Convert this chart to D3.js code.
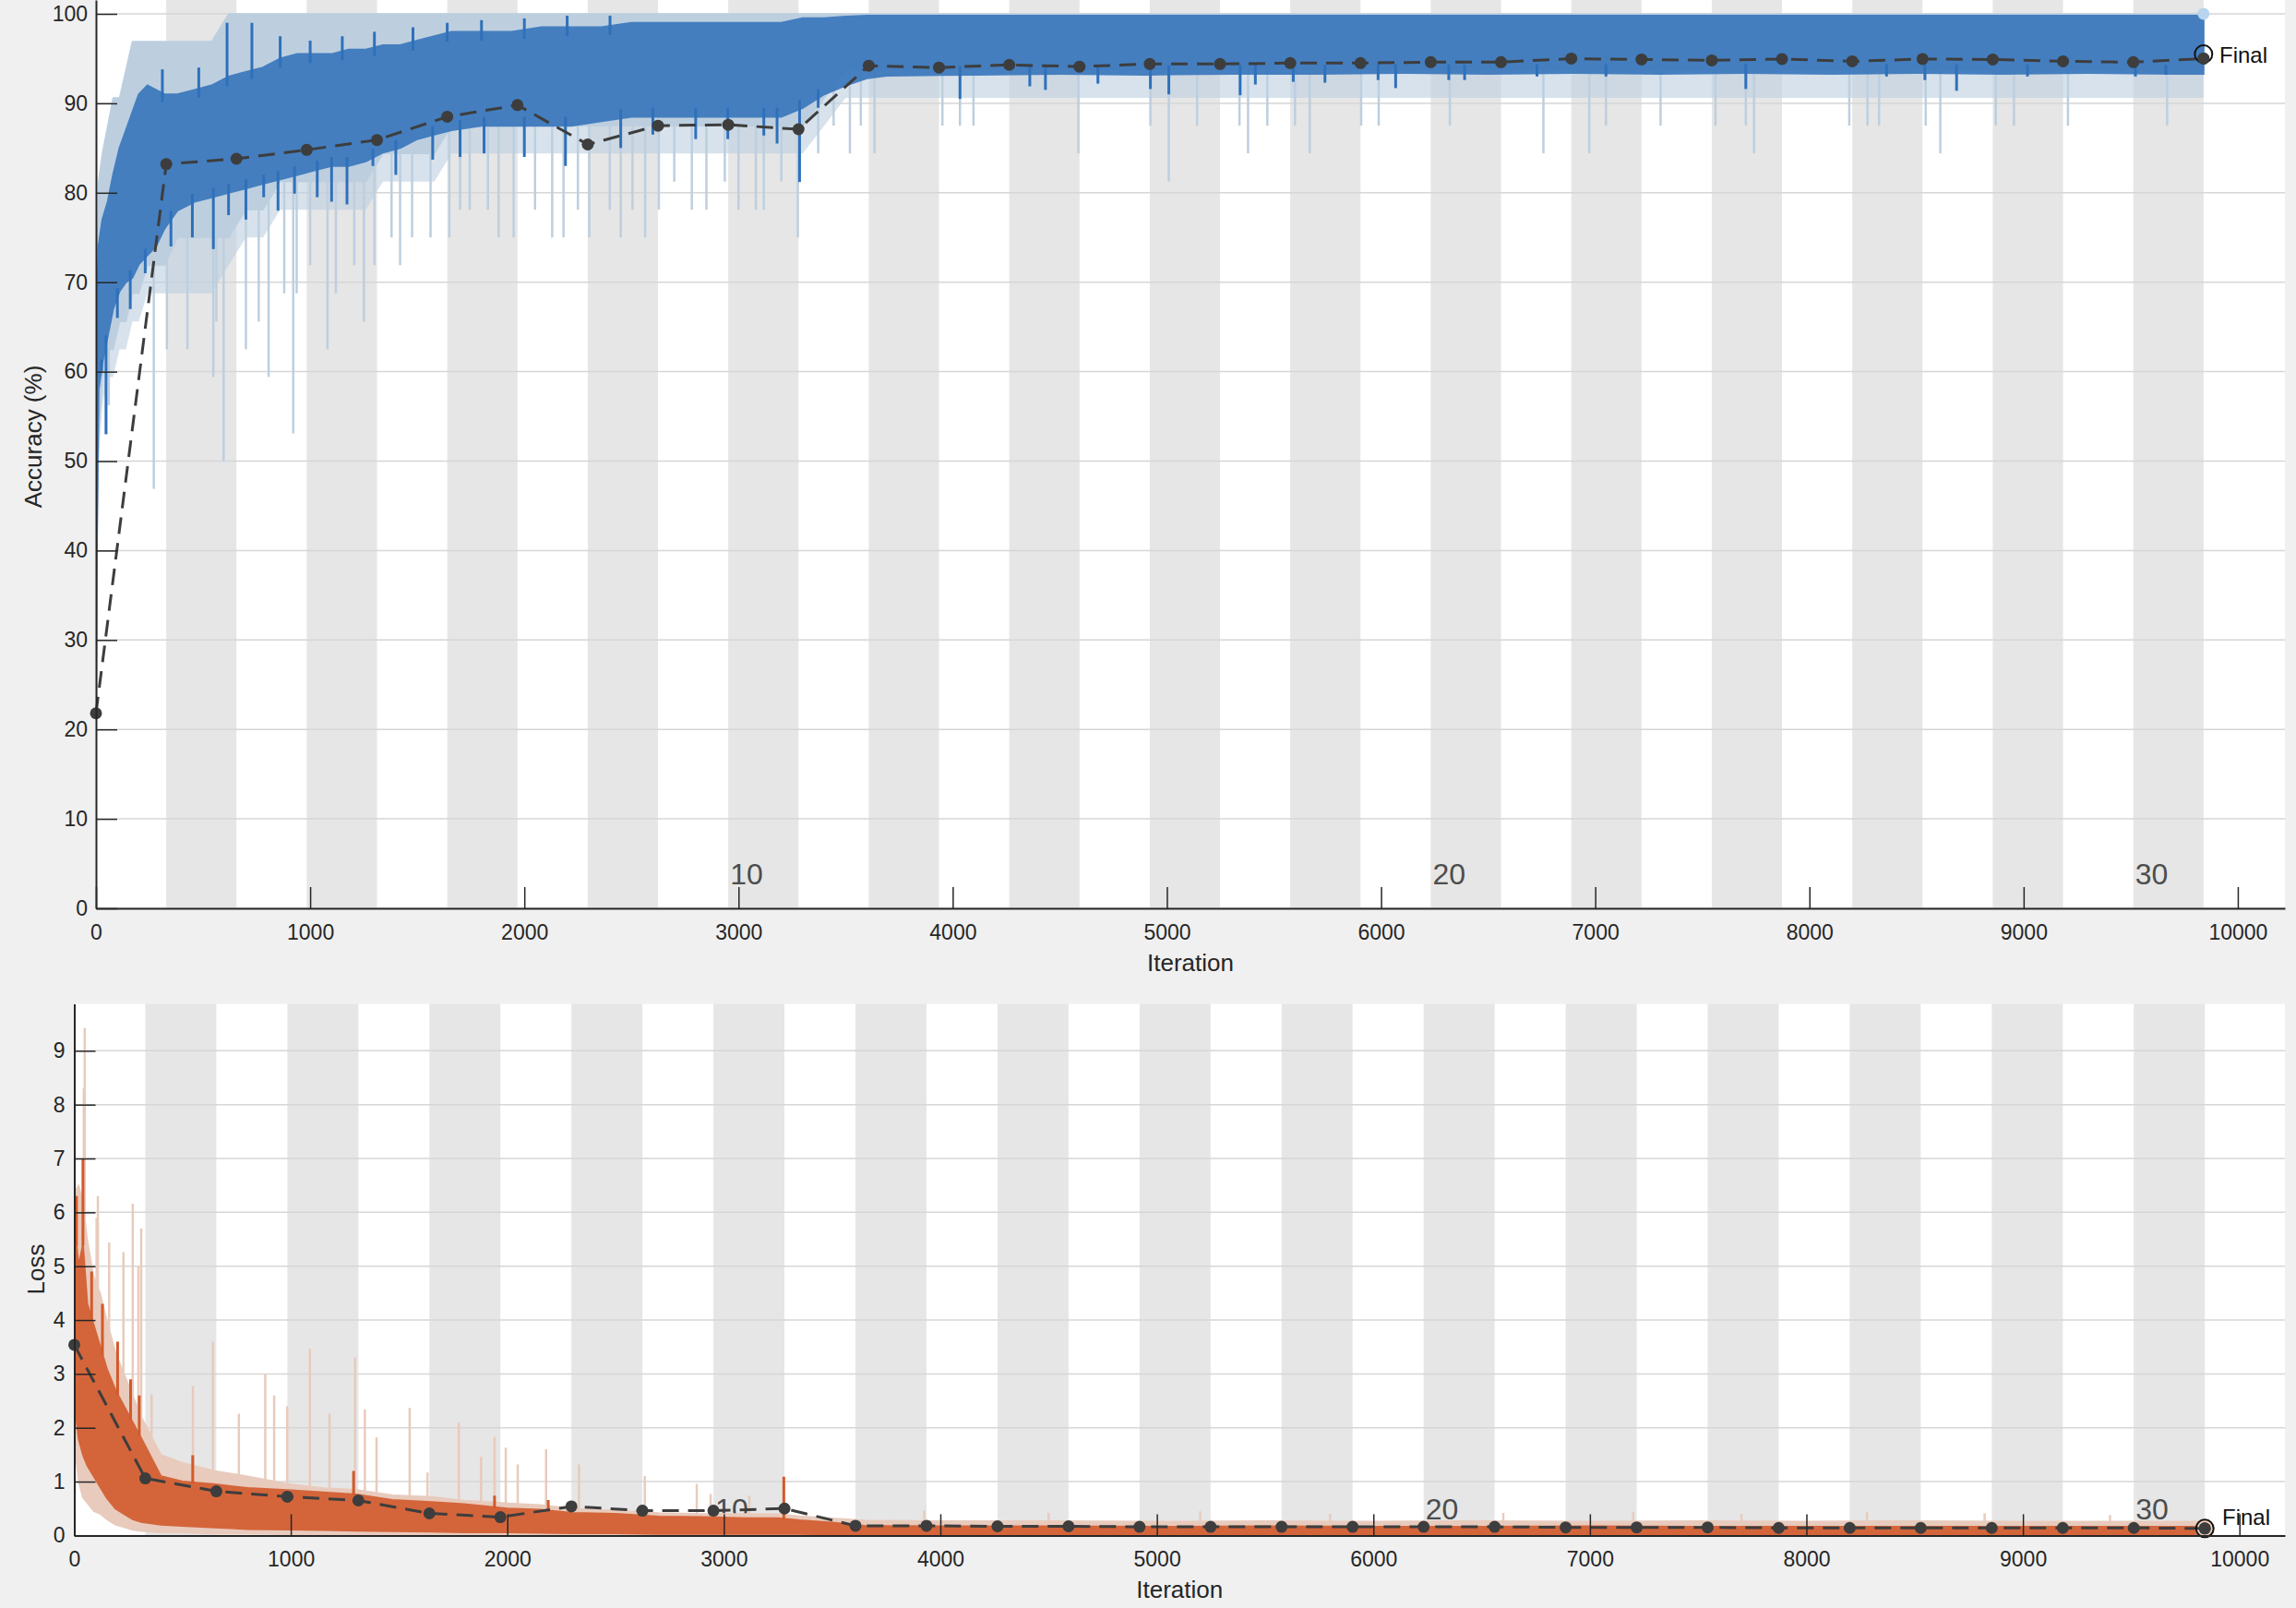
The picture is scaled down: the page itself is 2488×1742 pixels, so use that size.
<!DOCTYPE html>
<html><head><meta charset="utf-8">
<script src="https://cdn.jsdelivr.net/npm/d3@7/dist/d3.min.js"></script>
<style>
html,body{margin:0;padding:0;background:#f0f0f0;}
svg{display:block;font-family:"Liberation Sans",Arial,Helvetica,sans-serif;}
</style></head><body>
<svg id="chart" width="2488" height="1742"></svg>
<script>
// ---------- structure ----------
const itersPerEpoch = 328;
const numEpochs = 30;
const epochLabels = [10, 20, 30];
const iterTicks = [0,1000,2000,3000,4000,5000,6000,7000,8000,9000,10000];
const accTicks = [0,10,20,30,40,50,60,70,80,90,100];
const lossTicks = [0,1,2,3,4,5,6,7,8,9];

// ---------- accuracy (training, read as per-bin envelopes) ----------
const accIter = [0,4,12,30,55,80,110,140,170,200, 240,280,320,380,460,540,620,700,780,860,
  940,1020,1100,1180,1260,1340,1420,1500,1580,1660, 1800,1940,2080,2220,2360,2500,2640,2780,2920,3060,
  3200,3300,3400,3500,3600,3700,4100,4500,4900,5300, 5700,6100,6500,6900,7300,7700,8100,8500,8900,9300,
  9700,9840];
const accSmoothLo = [19.8,40,58,61,64,67,69,70,70.5,72, 73,74,76,78,79,79.5,80,80.5,81,81.5,
  82,82.5,83,83,83.5,84.5,85,86,86.5,87, 87.5,87.5,87.5,87.5,88,88.5,88.5,88.5,88.5,88.5,
  88.5,89.5,91,92,92.8,93.1,93.2,93.3,93.2,93.3, 93.3,93.4,93.3,93.4,93.3,93.4,93.3,93.4,93.3,93.4,
  93.3,93.3];
const accSmoothHi = [21.9,66,74,77,79,82,85,87,89,91, 92,91.5,91,91,91.5,92,93,93.5,94,95,
  95.5,95.5,95.5,96,96,96.5,96.5,97,97.5,98, 98,98,98.5,98.5,98.5,99,99,99,99,99,
  99,99.5,99.5,99.7,99.8,99.8,99.8,99.8,99.8,99.8, 99.8,99.8,99.8,99.8,99.8,99.8,99.8,99.8,99.8,99.8,
  99.8,99.8];
const accRawLo = [18.75,40.6,53.1,59.4,62.5,62.5,65.6,65.6,68.75,68.75, 71.9,71.9,71.9,75,75,75,75,78.1,78.1,81.25,
  81.25,81.25,81.25,81.25,81.25,84.4,84.4,84.4,84.4,87.5, 87.5,87.5,87.5,87.5,87.5,87.5,87.5,87.5,87.5,87.5,
  87.5,87.5,90.6,93.75,93.75,93.75,93.75,93.75,93.75,93.75, 93.75,93.75,93.75,93.75,93.75,93.75,93.75,93.75,93.75,93.75,
  93.75,93.75];
const accRawSparse = [18.75,37.5,50,56.25,59.4,59.4,62.5,62.5,65.6,65.6, 68.75,68.75,68.75,68.75,68.75,68.75,71.9,75,75,78.1,
  78.1,78.1,78.1,78.1,78.1,81.25,81.25,81.25,81.25,84.4, 84.4,84.4,84.4,84.4,84.4,84.4,84.4,84.4,84.4,84.4,
  84.4,84.4,87.5,90.6,90.6,90.6,90.6,90.6,90.6,90.6, 90.6,90.6,90.6,90.6,90.6,90.6,90.6,90.6,90.6,90.6,
  90.6,90.6];
const accRawHi = [21.9,68.75,81.25,84.4,87.5,90.6,90.6,93.75,96.9,96.9, 96.9,96.9,96.9,96.9,96.9,96.9,100,100,100,100,
  100,100,100,100,100,100,100,100,100,100, 100,100,100,100,100,100,100,100,100,100,
  100,100,100,100,100,100,100,100,100,100, 100,100,100,100,100,100,100,100,100,100,
  100,100];
const accSpikeIter = [47,60,270,331,427,548,562,596,700,760, 806,879,921,937,1000,1081,1120,1206,1251,1300,
  1380,1420,1476,1562,1650,1700,1745,1830,1880,1950, 2050,2130,2183,2250,2303,2399,2450,2505,2564,2628,
  2700,2782,2850,2936,3000,3081,3118,3200,3277,3372, 3444,3520,3571,3635,3952,4034,4097,4587,4923,5009,
  5141,5339,5379,5469,5598,5667,5907,5989,6321,6758, 6972,7050,7305,7561,7703,7741,8186,8271,8325,8543,
  8611,8870,8955,9207,9670];
const accSpikeVal = [53.1,56.25,46.9,62.5,62.5,59.4,65.6,50,62.5,65.6, 59.4,68.75,53.1,68.75,71.9,62.5,68.75,71.9,65.6,71.9,
  75,71.9,75,75,75,78.1,78.1,78.1,75,75, 78.1,75,75,78.1,75,78.1,75,78.1,75,78.1,
  81.25,78.1,78.1,81.25,78.1,78.1,78.1,81.25,75,84.4, 87.5,84.4,87.5,84.4,87.5,87.5,87.5,84.4,87.5,81.25,
  87.5,87.5,84.4,87.5,87.5,84.4,87.5,87.5,87.5,84.4, 84.4,87.5,87.5,87.5,87.5,84.4,87.5,87.5,87.5,87.5,
  84.4,87.5,87.5,87.5,87.5];
const accDipIter = [26,47,100,160,230,350,450,548,619,700, 783,850,927,1033,1100,1172,1293,1400,1572,1700,
  1812,2000,2192,2450,2600,2800,2950,3118,3180,3285, 3372,4034,4360,4433,4678,4923,5009,5342,5413,5590,
  5738,5986,6068,6316,6390,6728,7050,7703,8360,8539, 8687,9018,9522,9664];
const accDipVal = [60,53,66,67,71,74,75,73.7,77.5,77, 79.5,78,79.9,79.5,79,78.7,83,82,83.7,84,
  84.4,84,83,85,86.5,86,86,86.4,85.5,81.2, 89.5,90.5,91.9,91.5,92.2,91.6,91,90.9,92.1,92.4,
  92.3,92.6,91.7,92.6,92.6,93,93,91.6,93,92.6, 91.4,93,93,93.2];
const accPeakIter = [310,480,612,728,860,1000,1150,1300,1480,1640,1800,2000,2200,2400];
const accPeakVal = [93.8,94,99,99,97.5,97,97.5,98,98.5,99,99.3,99.5,99.8,99.8];
// validation accuracy, one per epoch boundary (epoch 0..30)
const valAcc = [21.8,83.2,83.8,84.8,85.9,88.5,89.8,85.4,87.5,87.6,87.1,94.2,94.0,94.3,94.1,94.4,94.4,94.5,94.5,94.6,
  94.6,95.0,94.9,94.8,94.95,94.7,94.95,94.9,94.7,94.6,95.0];
const finalAcc = 95.5;
const lastRawAcc = 100;

// ---------- loss ----------
const lossIter = [0,5,20,40,60,90,120,150,190,230, 270,310,400,500,650,800,1000,1150,1300,1470,
  1650,1800,2000,2150,2300,2500,2700,2900,3100,3250, 3350,3500,3650,4000,4500,5000,5500,6000,6500,7000,
  7500,8000,8500,9000,9500,9840];
const lossSmoothLo = [2.4,2.3,1.8,1.5,1.3,1.1,0.9,0.7,0.5,0.4, 0.3,0.25,0.2,0.18,0.15,0.12,0.11,0.1,0.09,0.08,
  0.07,0.06,0.06,0.05,0.04,0.04,0.03,0.03,0.03,0.03, 0.03,0.02,0.02,0.02,0.02,0.02,0.02,0.02,0.02,0.02,
  0.02,0.02,0.02,0.02,0.02,0.02];
const lossSmoothHi = [3.4,5.6,5.0,5.4,4.3,3.9,3.5,3.1,2.7,2.4, 2.1,1.8,1.1,1.0,0.95,0.88,0.84,0.8,0.76,0.66,
  0.62,0.58,0.5,0.48,0.42,0.4,0.35,0.34,0.32,0.32, 0.28,0.24,0.18,0.17,0.17,0.16,0.17,0.16,0.16,0.17,
  0.16,0.16,0.16,0.16,0.16,0.16];
const lossRawLo = [2.3,1.5,1.0,0.7,0.6,0.45,0.4,0.3,0.2,0.15, 0.1,0.08,0.05,0.05,0.03,0.03,0.02,0.02,0.02,0.02,
  0.01,0.01,0.01,0.01,0.01,0.01,0.01,0.01,0.01,0.01, 0.01,0.01,0.01,0.01,0.01,0.01,0.01,0.01,0.01,0.01,
  0.01,0.01,0.01,0.01,0.01,0.01];
const lossRawHi = [3.5,6.4,6.5,6.2,5.5,4.8,4.5,4.0,3.4,3.0, 2.6,2.2,1.5,1.35,1.2,1.1,0.95,0.88,0.85,0.75,
  0.72,0.65,0.6,0.57,0.5,0.46,0.42,0.4,0.4,0.4, 0.36,0.32,0.28,0.27,0.27,0.26,0.27,0.26,0.27,0.26,
  0.27,0.26,0.27,0.26,0.26,0.26];
const lossSpikeIter = [20,44,48,103,109,161,227,270,296,309, 357,548,640,760,882,923,983,1088,1179,1297,
  1342,1396,1549,1631,1776,1879,1941,1993,2048,2179, 2331,2635,2875,2939,3118,3925,4500,5200,5800,6600,
  7200,7700,8280,8823,9402];
const lossSpikeVal = [6.4,8.3,9.42,5.9,6.3,5.44,5.26,6.16,5.0,5.7, 2.62,2.78,3.6,2.26,3.0,2.6,2.4,3.47,2.26,3.3,
  2.34,1.82,2.37,1.17,2.1,1.46,1.83,1.63,1.32,1.6, 1.32,1.1,0.96,0.77,0.74,0.46,0.42,0.45,0.4,0.42,
  0.44,0.4,0.43,0.41,0.38];
const lossPeakIter = [10,40,80,130,200,260,300,547,1290,1941,2189,3277];
const lossPeakVal = [6.3,7.0,4.9,4.3,3.6,2.9,2.6,1.49,1.2,0.74,0.66,1.09];
const valLoss = [3.54,1.06,0.82,0.72,0.65,0.41,0.34,0.54,0.46,0.46,0.50,0.18,0.18,0.17,0.17,0.16,0.16,0.16,0.16,0.16,
  0.16,0.15,0.15,0.15,0.14,0.14,0.14,0.14,0.14,0.14,0.13];
const finalLoss = 0.13;
const lastRawLoss = 0.12;

// ---------- drawing ----------
const svg = d3.select('#chart');
const defs = svg.append('defs');
svg.append('rect').attr('width',2488).attr('height',1742).attr('fill','#f0f0f0');

function interp(xs, ys, t){
  const i = d3.bisectRight(xs, t);
  if (i <= 0) return ys[0];
  if (i >= xs.length) return ys[ys.length-1];
  const a = xs[i-1], b = xs[i];
  return ys[i-1] + (ys[i]-ys[i-1]) * (t-a) / (b-a);
}

function drawPanel(p){
  const g = svg.append('g');
  const x = d3.scaleLinear().domain([0, p.xMax]).range([p.left, p.right]);
  const y = d3.scaleLinear().domain([0, p.yMax]).range([p.bottom, p.top]);
  defs.append('clipPath').attr('id', 'clip'+p.id).append('rect')
    .attr('x', p.left).attr('y', p.top).attr('width', p.right-p.left).attr('height', p.bottom-p.top);

  g.append('rect').attr('x',p.left).attr('y',p.top).attr('width',p.right-p.left).attr('height',p.bottom-p.top).attr('fill','#ffffff');
  const bands = d3.range(2, numEpochs+1, 2);
  g.selectAll('rect.band').data(bands).join('rect').attr('class','band')
    .attr('x', e => x((e-1)*itersPerEpoch)).attr('width', e => x(e*itersPerEpoch)-x((e-1)*itersPerEpoch))
    .attr('y', p.top).attr('height', p.bottom-p.top).attr('fill', '#e6e6e6');
  g.selectAll('line.grid').data(p.yTicks).join('line').attr('class','grid')
    .attr('x1', p.left).attr('x2', p.right).attr('y1', d => y(d)).attr('y2', d => y(d))
    .attr('stroke', '#d6d6d6').attr('stroke-width', 1.5);
  g.selectAll('text.ep').data(epochLabels).join('text').attr('class','ep')
    .attr('x', e => x((e-1)*itersPerEpoch)+2).attr('y', p.epochY)
    .attr('font-size', 32).attr('fill', '#4d4d4d').text(e => e);

  const dg = g.append('g').attr('clip-path', `url(#clip${p.id})`);
  const rows = (xs, lo, hi) => xs.map((t,i) => ({t, lo: lo[i], hi: hi[i]}));
  const area = d3.area().x(d => x(d.t)).y0(d => y(d.lo)).y1(d => y(d.hi));
  const vlines = (cls, its, vals, to, color, w) =>
    dg.selectAll('line.'+cls).data(its).join('line').attr('class', cls)
      .attr('x1', t => x(t)).attr('x2', t => x(t))
      .attr('y1', (t,i) => y(vals[i])).attr('y2', t => y(to(t)))
      .attr('stroke', color).attr('stroke-width', w);

  // raw spikes (under raw band)
  vlines('rs', p.spikeIter, p.spikeVal, p.spikeTo, p.rawColor, 2.5);
  if (p.rawSparse) {
    dg.append('path').datum(rows(p.iter, p.rawSparse, p.rawLo)).attr('d', area)
      .attr('fill', p.rawColor).attr('opacity', 0.6);
  }
  dg.append('path').datum(rows(p.iter, p.rawLo, p.rawHi)).attr('d', area)
    .attr('fill', p.rawColor).attr('stroke', p.rawColor).attr('stroke-width', 1.5);

  // smoothed extremes + band
  if (p.dipIter) vlines('sd', p.dipIter, p.dipVal, p.dipTo, p.smoothColor, 3);
  vlines('sp', p.peakIter, p.peakVal, p.peakTo, p.smoothColor, 3);
  dg.append('path').datum(rows(p.iter, p.smoothLo, p.smoothHi)).attr('d', area)
    .attr('fill', p.smoothColor).attr('stroke', p.smoothColor).attr('stroke-width', 2).attr('opacity', p.smoothOpacity);

  // last raw point marker
  dg.append('circle').attr('cx', x(numEpochs*itersPerEpoch)).attr('cy', y(p.lastRaw)).attr('r', p.lastRawR)
    .attr('fill', p.lastRawColor);

  // validation
  const valPts = p.val.map((v,i) => [i*itersPerEpoch, v]);
  g.append('path').datum(valPts)
    .attr('d', d3.line().x(d => x(d[0])).y(d => y(d[1])))
    .attr('fill','none').attr('stroke','#3d3d3d').attr('stroke-width',3).attr('stroke-dasharray','18,10');
  g.selectAll('circle.vd').data(valPts).join('circle').attr('class','vd')
    .attr('cx', d => x(d[0])).attr('cy', d => y(d[1])).attr('r', 6.5).attr('fill', '#3d3d3d');
  g.append('circle').attr('cx', x(numEpochs*itersPerEpoch)).attr('cy', y(p.final)).attr('r', 9.5)
    .attr('fill', 'none').attr('stroke', '#111').attr('stroke-width', 2);
  g.append('circle').attr('cx', x(numEpochs*itersPerEpoch)).attr('cy', y(p.val[p.val.length-1])).attr('r', 6.5)
    .attr('fill', '#3d3d3d');
  g.append('text').attr('x', p.finalX).attr('y', p.finalY).attr('font-size', 24).attr('fill', '#111').text('Final');

  // axes
  const fmt = d3.format('d');
  const ya = g.append('g').attr('transform', `translate(${p.left},0)`)
    .call(d3.axisLeft(y).tickValues(p.yTicks).tickFormat(fmt).tickSizeInner(-23).tickSizeOuter(0).tickPadding(p.yPad));
  const xa = g.append('g').attr('transform', `translate(0,${p.bottom})`)
    .call(d3.axisBottom(x).tickValues(iterTicks).tickFormat(fmt).tickSizeInner(-23).tickSizeOuter(0).tickPadding(p.xPad));
  [ya, xa].forEach(a => {
    a.select('.domain').attr('stroke', '#262626').attr('stroke-width', 2);
    a.selectAll('.tick line').attr('stroke', '#262626').attr('stroke-width', 1.5);
    a.selectAll('.tick text').attr('font-size', 23).attr('fill', '#262626')
      .attr('font-family', '"Liberation Sans",Arial,sans-serif');
  });
  g.append('text').attr('x', (p.left+p.right)/2).attr('y', p.xLabelY).attr('text-anchor','middle')
    .attr('font-size', 26).attr('fill', '#262626').text('Iteration');
  g.append('text').attr('transform', `translate(${p.yLabelX},${p.yLabelY}) rotate(-90)`).attr('text-anchor','middle')
    .attr('font-size', 26).attr('fill', '#262626').text(p.yLabel);
}

drawPanel({
  id: 'acc', left: 104, right: 2476, top: 0, bottom: 984, xMax: 10220, yMax: 101.55,
  yTicks: accTicks, yPad: 9, xPad: 18, epochY: 958,
  iter: accIter, smoothLo: accSmoothLo, smoothHi: accSmoothHi,
  rawLo: accRawLo, rawHi: accRawHi, rawSparse: accRawSparse,
  spikeIter: accSpikeIter, spikeVal: accSpikeVal, spikeTo: t => interp(accIter, accRawLo, t) + 1,
  dipIter: accDipIter, dipVal: accDipVal, dipTo: t => interp(accIter, accSmoothLo, t) + 1,
  peakIter: accPeakIter, peakVal: accPeakVal, peakTo: t => interp(accIter, accSmoothHi, t) - 1,
  rawColor: '#bdcfdf', smoothColor: '#2f70ba', smoothOpacity: 0.85,
  lastRaw: lastRawAcc, lastRawR: 6.5, lastRawColor: '#b9d4ee',
  val: valAcc, final: finalAcc, finalX: 2405, finalY: 68,
  xLabelY: 1052, yLabelX: 45, yLabelY: 473, yLabel: 'Accuracy (%)'
});

drawPanel({
  id: 'loss', left: 80.5, right: 2476, top: 1087.6, bottom: 1663.4, xMax: 10210, yMax: 9.87,
  yTicks: lossTicks, yPad: 10, xPad: 17, epochY: 1646,
  iter: lossIter, smoothLo: lossSmoothLo, smoothHi: lossSmoothHi,
  rawLo: lossRawLo, rawHi: lossRawHi, rawSparse: null,
  spikeIter: lossSpikeIter, spikeVal: lossSpikeVal, spikeTo: t => interp(lossIter, lossRawHi, t) - 0.02,
  dipIter: null, dipVal: null, dipTo: null,
  peakIter: lossPeakIter, peakVal: lossPeakVal, peakTo: t => interp(lossIter, lossSmoothHi, t) - 0.02,
  rawColor: '#e8cbbd', smoothColor: '#d25a2c', smoothOpacity: 0.9,
  lastRaw: lastRawLoss, lastRawR: 10.5, lastRawColor: '#f1cdbb',
  val: valLoss, final: finalLoss, finalX: 2408, finalY: 1652,
  xLabelY: 1731, yLabelX: 48, yLabelY: 1375, yLabel: 'Loss'
});
</script>
</body></html>
